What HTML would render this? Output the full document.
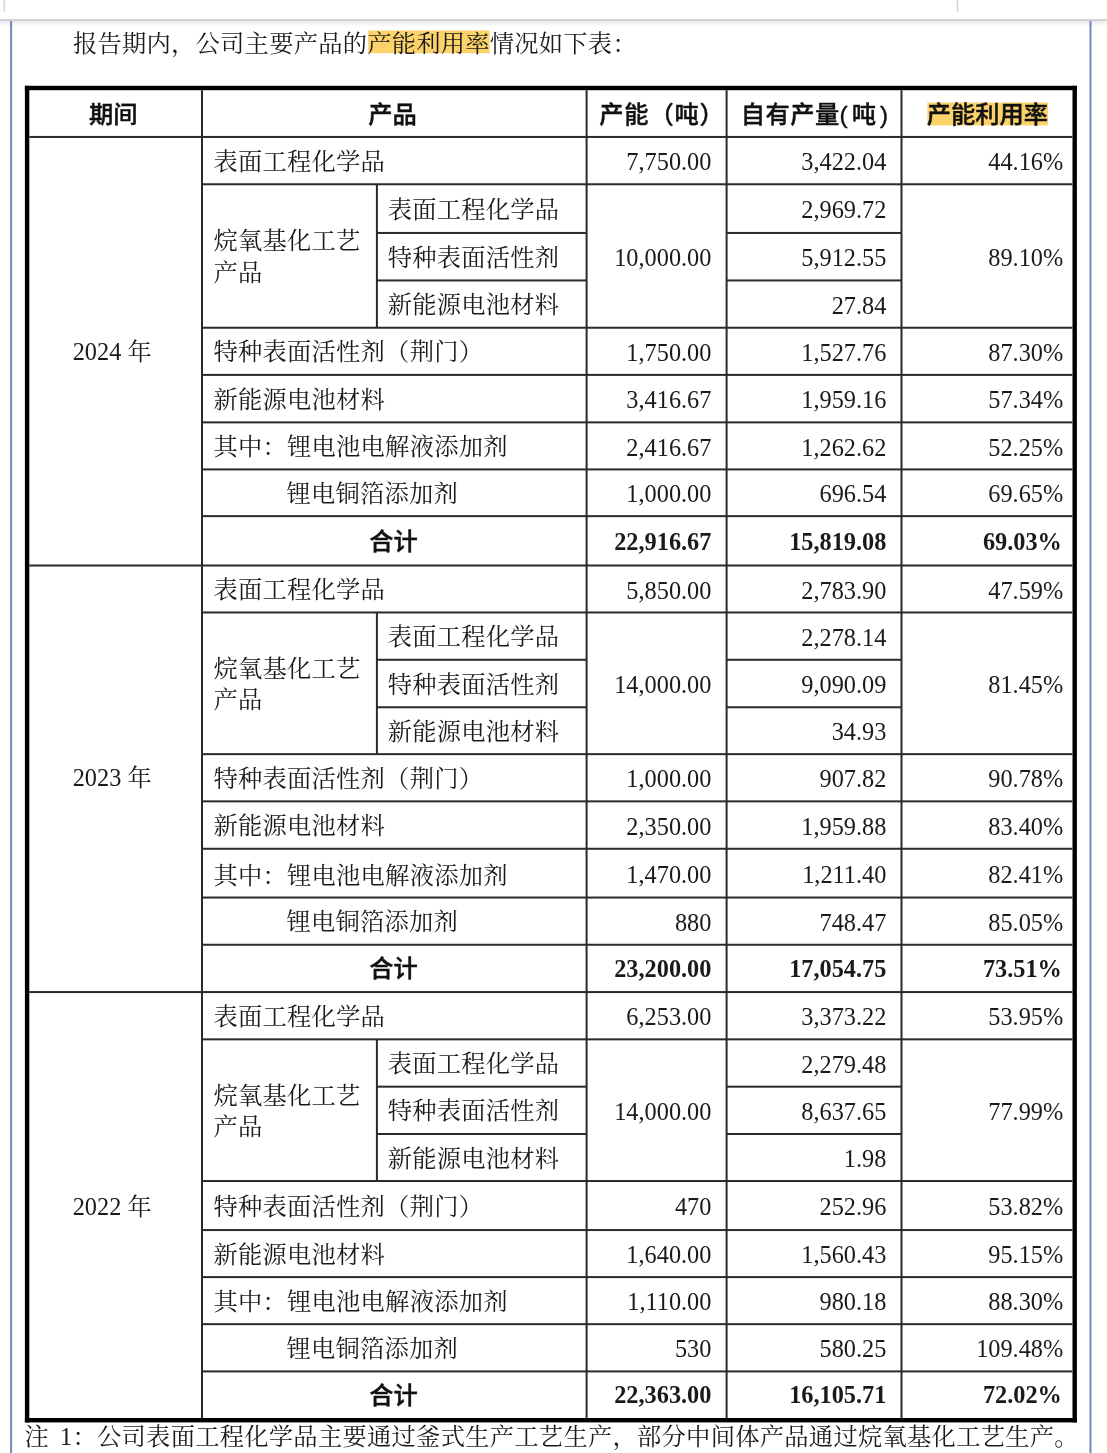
<!DOCTYPE html>
<html><head><meta charset="utf-8"><style>
html,body{margin:0;padding:0;background:#fff;}
body{width:1107px;height:1453px;position:relative;overflow:hidden;}
#wrap{position:absolute;left:0;top:0;width:1107px;height:1453px;}
.t{position:absolute;white-space:nowrap;font-size:24.3px;line-height:30px;color:#1a1a1a;}
.cjk{font-family:"Liberation Serif", "Noto Serif CJK SC", serif;letter-spacing:0.22px;}
.per{font-family:"Liberation Serif", "Noto Serif CJK SC", serif;}
.num{font-family:"Liberation Serif", "Noto Serif CJK SC", serif;}
.b{font-weight:bold;}
.r{text-align:right;}
.c{text-align:center;}
.hdr{font-family:"Liberation Sans", "Noto Sans CJK SC", sans-serif;font-weight:500;color:#111;-webkit-text-stroke:0.4px #111;}
.two{line-height:31.6px;}
.hl{}
.hp{display:inline-block;width:12.15px;}
.hp.l{text-align:left;} .hp.r{text-align:right;}
.sp{display:inline-block;width:6.1px;}
#top{position:absolute;left:0;top:0;width:1107px;height:19px;background:#fff;}
#intro{position:absolute;left:73px;top:28.5px;font-family:"Liberation Serif", "Noto Serif CJK SC", serif;font-size:24.3px;line-height:30px;white-space:nowrap;color:#1a1a1a;letter-spacing:0.22px;}
#note{position:absolute;left:24.5px;top:1422px;font-family:"Liberation Serif", "Noto Serif CJK SC", serif;font-size:24.3px;line-height:30px;white-space:nowrap;color:#1a1a1a;letter-spacing:0.25px;}
.nsp{display:inline-block;width:11px;}
</style></head><body><div id="wrap">
<svg width="1107" height="1453" style="position:absolute;left:0;top:0">
<rect x="0" y="19" width="1107" height="2" fill="#d2d2d2"/>
<rect x="368.2" y="30.5" width="121.4" height="22.7" fill="#fcd36b"/>
<rect x="927.4" y="102.5" width="120.6" height="22.9" fill="#fcd36b"/>
<rect x="0" y="21" width="1107" height="6" fill="url(#sh)"/>
<defs><linearGradient id="sh" x1="0" y1="0" x2="0" y2="1"><stop offset="0" stop-color="#ebebeb"/><stop offset="1" stop-color="#ffffff"/></linearGradient></defs>
<rect x="3.5" y="0" width="1.6" height="12" fill="#d8d8d8"/>
<rect x="956.7" y="0" width="1.6" height="12" fill="#d6d6d6"/>
<rect x="10.1" y="21" width="2" height="1432" fill="#6e8aba"/>
<rect x="1089.5" y="21" width="2" height="1432" fill="#6e8aba"/>
<rect x="24.90" y="85.80" width="1052.00" height="4.40" fill="#000"/>
<rect x="24.90" y="1418.00" width="1052.00" height="4.40" fill="#000"/>
<rect x="24.90" y="85.80" width="4.40" height="1336.60" fill="#000"/>
<rect x="1072.50" y="85.80" width="4.40" height="1336.60" fill="#000"/>
<rect x="201.00" y="90.20" width="2.00" height="1327.80" fill="#2a2a2a"/>
<rect x="585.60" y="90.20" width="2.00" height="1327.80" fill="#2a2a2a"/>
<rect x="725.60" y="90.20" width="2.00" height="1327.80" fill="#2a2a2a"/>
<rect x="900.50" y="90.20" width="2.00" height="1327.80" fill="#2a2a2a"/>
<rect x="29.30" y="135.95" width="1043.20" height="2.00" fill="#2a2a2a"/>
<rect x="29.30" y="564.50" width="1043.20" height="2.00" fill="#2a2a2a"/>
<rect x="202.00" y="183.27" width="870.50" height="2.00" fill="#2a2a2a"/>
<rect x="202.00" y="326.74" width="870.50" height="2.00" fill="#2a2a2a"/>
<rect x="202.00" y="373.89" width="870.50" height="2.00" fill="#2a2a2a"/>
<rect x="202.00" y="421.37" width="870.50" height="2.00" fill="#2a2a2a"/>
<rect x="202.00" y="468.42" width="870.50" height="2.00" fill="#2a2a2a"/>
<rect x="202.00" y="515.14" width="870.50" height="2.00" fill="#2a2a2a"/>
<rect x="376.90" y="231.95" width="209.70" height="2.00" fill="#2a2a2a"/>
<rect x="726.60" y="231.95" width="174.90" height="2.00" fill="#2a2a2a"/>
<rect x="376.90" y="279.44" width="209.70" height="2.00" fill="#2a2a2a"/>
<rect x="726.60" y="279.44" width="174.90" height="2.00" fill="#2a2a2a"/>
<rect x="375.90" y="184.27" width="2.00" height="143.47" fill="#2a2a2a"/>
<rect x="29.30" y="991.06" width="1043.20" height="2.00" fill="#2a2a2a"/>
<rect x="202.00" y="611.47" width="870.50" height="2.00" fill="#2a2a2a"/>
<rect x="202.00" y="753.15" width="870.50" height="2.00" fill="#2a2a2a"/>
<rect x="202.00" y="800.36" width="870.50" height="2.00" fill="#2a2a2a"/>
<rect x="202.00" y="847.76" width="870.50" height="2.00" fill="#2a2a2a"/>
<rect x="202.00" y="896.54" width="870.50" height="2.00" fill="#2a2a2a"/>
<rect x="202.00" y="943.75" width="870.50" height="2.00" fill="#2a2a2a"/>
<rect x="376.90" y="658.78" width="209.70" height="2.00" fill="#2a2a2a"/>
<rect x="726.60" y="658.78" width="174.90" height="2.00" fill="#2a2a2a"/>
<rect x="376.90" y="706.26" width="209.70" height="2.00" fill="#2a2a2a"/>
<rect x="726.60" y="706.26" width="174.90" height="2.00" fill="#2a2a2a"/>
<rect x="375.90" y="612.47" width="2.00" height="141.68" fill="#2a2a2a"/>
<rect x="202.00" y="1038.36" width="870.50" height="2.00" fill="#2a2a2a"/>
<rect x="202.00" y="1180.03" width="870.50" height="2.00" fill="#2a2a2a"/>
<rect x="202.00" y="1229.06" width="870.50" height="2.00" fill="#2a2a2a"/>
<rect x="202.00" y="1276.10" width="870.50" height="2.00" fill="#2a2a2a"/>
<rect x="202.00" y="1323.16" width="870.50" height="2.00" fill="#2a2a2a"/>
<rect x="202.00" y="1370.40" width="870.50" height="2.00" fill="#2a2a2a"/>
<rect x="376.90" y="1085.67" width="209.70" height="2.00" fill="#2a2a2a"/>
<rect x="726.60" y="1085.67" width="174.90" height="2.00" fill="#2a2a2a"/>
<rect x="376.90" y="1132.99" width="209.70" height="2.00" fill="#2a2a2a"/>
<rect x="726.60" y="1132.99" width="174.90" height="2.00" fill="#2a2a2a"/>
<rect x="375.90" y="1039.36" width="2.00" height="141.67" fill="#2a2a2a"/>
</svg>
<div id="intro">报告期内，公司主要产品的<span class="hl">产能利用率</span>情况如下表：</div>
<div class="t hdr c" style="left:-86.80px;width:400px;top:99.57px;">期间</div>
<div class="t hdr c" style="left:192.50px;width:400px;top:99.57px;">产品</div>
<div class="t hdr" style="left:599.30px;top:99.57px;letter-spacing:0.75px;">产能（吨）</div>
<div class="t hdr c" style="left:614.70px;width:400px;top:99.57px;letter-spacing:0.4px;">自有产量<span class="hp l">(</span>吨<span class="hp r">)</span></div>
<div class="t hdr c" style="left:787.40px;width:400px;top:99.57px;"><span class="hl">产能利用率</span></div>
<div class="t per" style="left:72.70px;top:337.23px;">2024<span class="sp"> </span>年</div>
<div class="t cjk" style="left:213.50px;top:146.61px;">表面工程化学品</div>
<div class="t num r" style="right:395.60px;top:147.21px;">7,750.00</div>
<div class="t num r" style="right:220.70px;top:147.21px;">3,422.04</div>
<div class="t num r" style="right:43.80px;top:147.21px;">44.16%</div>
<div class="t cjk two" style="left:213.50px;top:225.41px;">烷氧基化工艺<br>产品</div>
<div class="t cjk" style="left:387.70px;top:194.61px;">表面工程化学品</div>
<div class="t num r" style="right:220.70px;top:195.21px;">2,969.72</div>
<div class="t cjk" style="left:387.70px;top:242.69px;">特种表面活性剂</div>
<div class="t num r" style="right:220.70px;top:243.29px;">5,912.55</div>
<div class="t cjk" style="left:387.70px;top:290.09px;">新能源电池材料</div>
<div class="t num r" style="right:220.70px;top:290.69px;">27.84</div>
<div class="t num r" style="right:395.60px;top:242.60px;">10,000.00</div>
<div class="t num r" style="right:43.80px;top:242.60px;">89.10%</div>
<div class="t cjk" style="left:213.50px;top:337.31px;">特种表面活性剂（荆门）</div>
<div class="t num r" style="right:395.60px;top:337.92px;">1,750.00</div>
<div class="t num r" style="right:220.70px;top:337.92px;">1,527.76</div>
<div class="t num r" style="right:43.80px;top:337.92px;">87.30%</div>
<div class="t cjk" style="left:213.50px;top:384.63px;">新能源电池材料</div>
<div class="t num r" style="right:395.60px;top:385.23px;">3,416.67</div>
<div class="t num r" style="right:220.70px;top:385.23px;">1,959.16</div>
<div class="t num r" style="right:43.80px;top:385.23px;">57.34%</div>
<div class="t cjk" style="left:213.50px;top:431.89px;">其中：锂电池电解液添加剂</div>
<div class="t num r" style="right:395.60px;top:432.50px;">2,416.67</div>
<div class="t num r" style="right:220.70px;top:432.50px;">1,262.62</div>
<div class="t num r" style="right:43.80px;top:432.50px;">52.25%</div>
<div class="t cjk" style="left:286.40px;top:478.78px;">锂电铜箔添加剂</div>
<div class="t num r" style="right:395.60px;top:479.38px;">1,000.00</div>
<div class="t num r" style="right:220.70px;top:479.38px;">696.54</div>
<div class="t num r" style="right:43.80px;top:479.38px;">69.65%</div>
<div class="t hdr c" style="left:193.60px;width:400px;top:526.82px;">合计</div>
<div class="t num b r" style="right:395.60px;top:527.42px;">22,916.67</div>
<div class="t num b r" style="right:220.70px;top:527.42px;">15,819.08</div>
<div class="t num b r" style="right:45.10px;top:527.42px;">69.03%</div>
<div class="t per" style="left:72.70px;top:763.38px;">2023<span class="sp"> </span>年</div>
<div class="t cjk" style="left:213.50px;top:574.99px;">表面工程化学品</div>
<div class="t num r" style="right:395.60px;top:575.59px;">5,850.00</div>
<div class="t num r" style="right:220.70px;top:575.59px;">2,783.90</div>
<div class="t num r" style="right:43.80px;top:575.59px;">47.59%</div>
<div class="t cjk two" style="left:213.50px;top:652.71px;">烷氧基化工艺<br>产品</div>
<div class="t cjk" style="left:387.70px;top:622.12px;">表面工程化学品</div>
<div class="t num r" style="right:220.70px;top:622.73px;">2,278.14</div>
<div class="t cjk" style="left:387.70px;top:669.52px;">特种表面活性剂</div>
<div class="t num r" style="right:220.70px;top:670.12px;">9,090.09</div>
<div class="t cjk" style="left:387.70px;top:716.70px;">新能源电池材料</div>
<div class="t num r" style="right:220.70px;top:717.30px;">34.93</div>
<div class="t num r" style="right:395.60px;top:669.91px;">14,000.00</div>
<div class="t num r" style="right:43.80px;top:669.91px;">81.45%</div>
<div class="t cjk" style="left:213.50px;top:763.75px;">特种表面活性剂（荆门）</div>
<div class="t num r" style="right:395.60px;top:764.36px;">1,000.00</div>
<div class="t num r" style="right:220.70px;top:764.36px;">907.82</div>
<div class="t num r" style="right:43.80px;top:764.36px;">90.78%</div>
<div class="t cjk" style="left:213.50px;top:811.06px;">新能源电池材料</div>
<div class="t num r" style="right:395.60px;top:811.66px;">2,350.00</div>
<div class="t num r" style="right:220.70px;top:811.66px;">1,959.88</div>
<div class="t num r" style="right:43.80px;top:811.66px;">83.40%</div>
<div class="t cjk" style="left:213.50px;top:860.65px;">其中：锂电池电解液添加剂</div>
<div class="t num r" style="right:395.60px;top:859.75px;">1,470.00</div>
<div class="t num r" style="right:220.70px;top:859.75px;">1,211.40</div>
<div class="t num r" style="right:43.80px;top:859.75px;">82.41%</div>
<div class="t cjk" style="left:286.40px;top:907.14px;">锂电铜箔添加剂</div>
<div class="t num r" style="right:395.60px;top:907.75px;">880</div>
<div class="t num r" style="right:220.70px;top:907.75px;">748.47</div>
<div class="t num r" style="right:43.80px;top:907.75px;">85.05%</div>
<div class="t hdr c" style="left:193.60px;width:400px;top:954.40px;">合计</div>
<div class="t num b r" style="right:395.60px;top:954.00px;">23,200.00</div>
<div class="t num b r" style="right:220.70px;top:954.00px;">17,054.75</div>
<div class="t num b r" style="right:45.10px;top:954.00px;">73.51%</div>
<div class="t per" style="left:72.70px;top:1192.03px;">2022<span class="sp"> </span>年</div>
<div class="t cjk" style="left:213.50px;top:1001.71px;">表面工程化学品</div>
<div class="t num r" style="right:395.60px;top:1002.31px;">6,253.00</div>
<div class="t num r" style="right:220.70px;top:1002.31px;">3,373.22</div>
<div class="t num r" style="right:43.80px;top:1002.31px;">53.95%</div>
<div class="t cjk two" style="left:213.50px;top:1079.60px;">烷氧基化工艺<br>产品</div>
<div class="t cjk" style="left:387.70px;top:1049.01px;">表面工程化学品</div>
<div class="t num r" style="right:220.70px;top:1049.61px;">2,279.48</div>
<div class="t cjk" style="left:387.70px;top:1096.33px;">特种表面活性剂</div>
<div class="t num r" style="right:220.70px;top:1096.93px;">8,637.65</div>
<div class="t cjk" style="left:387.70px;top:1143.51px;">新能源电池材料</div>
<div class="t num r" style="right:220.70px;top:1144.11px;">1.98</div>
<div class="t num r" style="right:395.60px;top:1096.79px;">14,000.00</div>
<div class="t num r" style="right:43.80px;top:1096.79px;">77.99%</div>
<div class="t cjk" style="left:213.50px;top:1191.55px;">特种表面活性剂（荆门）</div>
<div class="t num r" style="right:395.60px;top:1192.14px;">470</div>
<div class="t num r" style="right:220.70px;top:1192.14px;">252.96</div>
<div class="t num r" style="right:43.80px;top:1192.14px;">53.82%</div>
<div class="t cjk" style="left:213.50px;top:1239.58px;">新能源电池材料</div>
<div class="t num r" style="right:395.60px;top:1240.18px;">1,640.00</div>
<div class="t num r" style="right:220.70px;top:1240.18px;">1,560.43</div>
<div class="t num r" style="right:43.80px;top:1240.18px;">95.15%</div>
<div class="t cjk" style="left:213.50px;top:1286.63px;">其中：锂电池电解液添加剂</div>
<div class="t num r" style="right:395.60px;top:1287.23px;">1,110.00</div>
<div class="t num r" style="right:220.70px;top:1287.23px;">980.18</div>
<div class="t num r" style="right:43.80px;top:1287.23px;">88.30%</div>
<div class="t cjk" style="left:286.40px;top:1333.78px;">锂电铜箔添加剂</div>
<div class="t num r" style="right:395.60px;top:1334.38px;">530</div>
<div class="t num r" style="right:220.70px;top:1334.38px;">580.25</div>
<div class="t num r" style="right:43.80px;top:1334.38px;">109.48%</div>
<div class="t hdr c" style="left:193.60px;width:400px;top:1381.00px;">合计</div>
<div class="t num b r" style="right:395.60px;top:1380.30px;">22,363.00</div>
<div class="t num b r" style="right:220.70px;top:1380.30px;">16,105.71</div>
<div class="t num b r" style="right:45.10px;top:1380.30px;">72.02%</div>
<div id="note">注<span class="nsp"> </span>1：公司表面工程化学品主要通过釜式生产工艺生产，部分中间体产品通过烷氧基化工艺生产。</div>
</div></body></html>
